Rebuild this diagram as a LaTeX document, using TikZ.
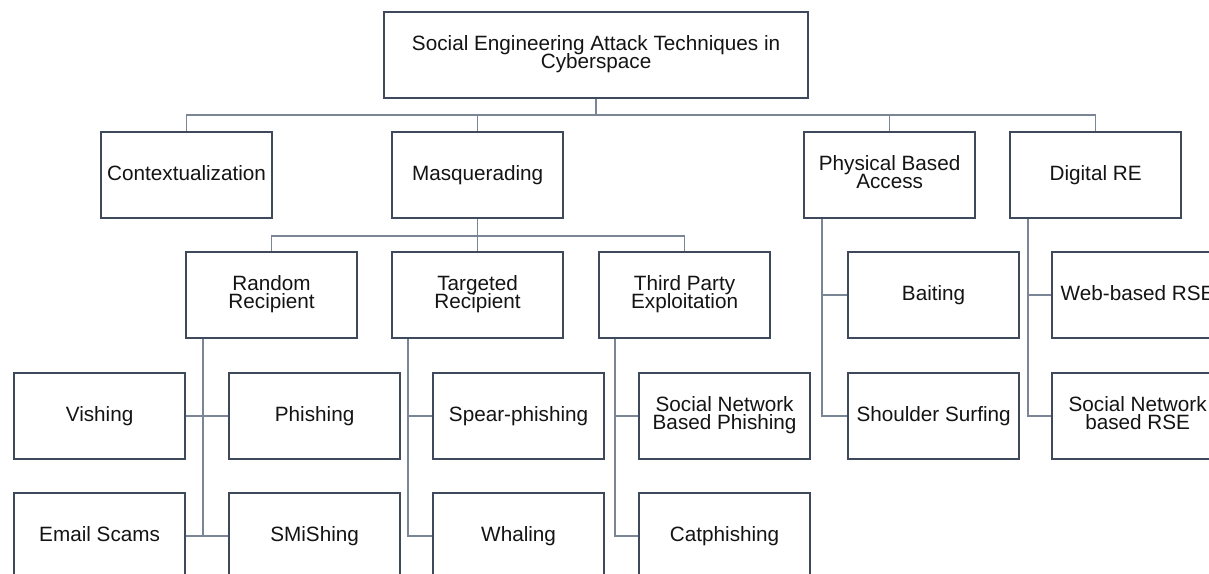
\documentclass[tikz,border=0pt]{standalone}
\usepackage{fontspec}
\setmainfont{Liberation Sans}
\definecolor{boxc}{RGB}{62,74,92}
\definecolor{linec}{RGB}{122,134,150}
\definecolor{txtc}{RGB}{20,20,20}
\begin{document}
\begin{tikzpicture}[x=1pt,y=-1pt,
  box/.style={draw=boxc, line width=2.2pt, fill=white, minimum width=171pt, minimum height=86pt,
    inner sep=0pt, anchor=north west, align=center, text=txtc,
    font={\fontsize{20.7}{17.5}\selectfont\lineskiplimit=-50pt},
    execute at begin node={\rule{0pt}{16pt}},
    execute at end node={\rule[-6pt]{0pt}{6pt}}},
  conn/.style={draw=linec, line width=1.5pt}]
\useasboundingbox (0,0) rectangle (1209,573);
\clip (0,0) rectangle (1209,573);
\fill[white] (0,0) rectangle (1209,573);

% root
\node[box, minimum width=424pt] (root) at (383,11) {Social Engineering Attack Techniques in\\Cyberspace};
% level 1
\node[box] (ctx)  at (100,131)  {Contextualization};
\node[box] (masq) at (391,131)  {Masquerading};
\node[box] (phys) at (803,131)  {Physical Based\\Access};
\node[box] (dig)  at (1009,131) {Digital RE};
% level 2
\node[box] (rand) at (185,251)  {Random\\Recipient};
\node[box] (targ) at (391,251)  {Targeted\\Recipient};
\node[box] (third) at (598,251) {Third Party\\Exploitation};
\node[box] (bait) at (847,251)  {Baiting};
\node[box] (web)  at (1051,251) {Web-based RSE};
% level 3
\node[box] (vish)  at (13,372)   {Vishing};
\node[box] (phish) at (228,372)  {Phishing};
\node[box] (spear) at (432,372)  {Spear-phishing};
\node[box] (snbp)  at (638,372)  {Social Network\\Based Phishing};
\node[box] (shoul) at (847,372)  {Shoulder Surfing};
\node[box] (snrse) at (1051,372) {Social Network\\based RSE};
% level 4
\node[box] (email) at (13,492)  {Email Scams};
\node[box] (smish) at (228,492) {SMiShing};
\node[box] (whal)  at (432,492) {Whaling};
\node[box] (cat)   at (638,492) {Catphishing};

% connectors: root to level 1
\draw[conn] (root.south) -- ++(0,16) -| (ctx.north);
\draw[conn] (root.south) -- ++(0,16) -| (masq.north);
\draw[conn] (root.south) -- ++(0,16) -| (phys.north);
\draw[conn] (root.south) -- ++(0,16) -| (dig.north);
% masquerading to level 2
\draw[conn] (masq.south) -- ++(0,17) -| (rand.north);
\draw[conn] (masq.south) -- (targ.north);
\draw[conn] (masq.south) -- ++(0,17) -| (third.north);
% vertical spines
\coordinate (rv) at ([xshift=18pt]rand.south west);
\coordinate (tv) at ([xshift=17pt]targ.south west);
\coordinate (thv) at ([xshift=17pt]third.south west);
\coordinate (pv) at ([xshift=19pt]phys.south west);
\coordinate (dv) at ([xshift=19pt]dig.south west);
\draw[conn] (rv) |- (vish.east);
\draw[conn] (rv) |- (phish.west);
\draw[conn] (rv) |- (email.east);
\draw[conn] (rv) |- (smish.west);
\draw[conn] (tv) |- (spear.west);
\draw[conn] (tv) |- (whal.west);
\draw[conn] (thv) |- (snbp.west);
\draw[conn] (thv) |- (cat.west);
\draw[conn] (pv) |- (bait.west);
\draw[conn] (pv) |- (shoul.west);
\draw[conn] (dv) |- (web.west);
\draw[conn] (dv) |- (snrse.west);
\end{tikzpicture}
\end{document}
